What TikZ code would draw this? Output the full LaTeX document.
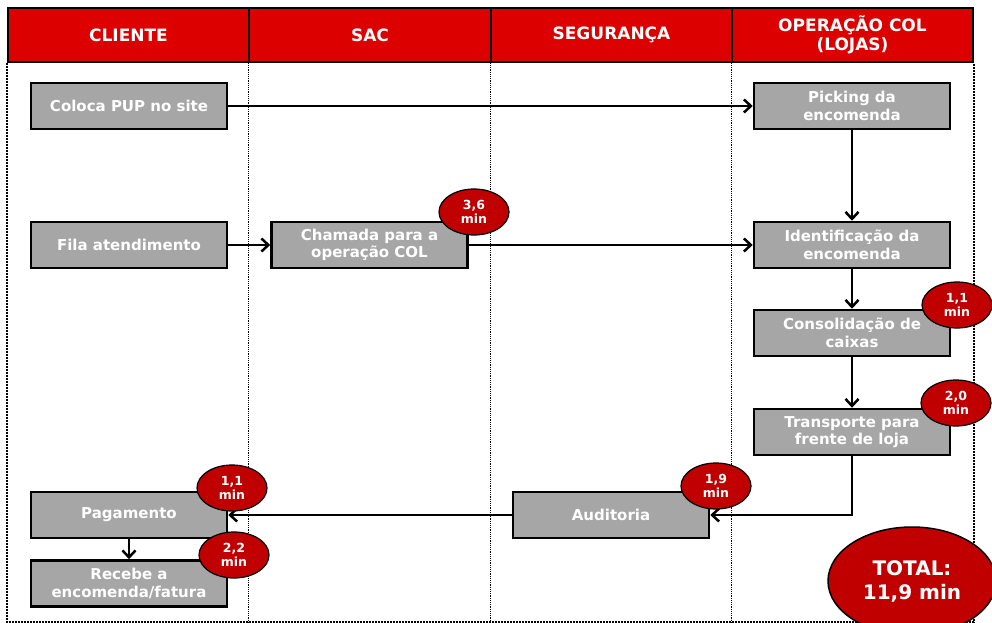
\documentclass[tikz,border=0pt]{standalone}
\usepackage{fontspec}
\setmainfont{DejaVu Sans}
\usetikzlibrary{shapes.geometric, arrows.meta}
\definecolor{rojo}{RGB}{221,0,0}
\definecolor{granate}{RGB}{192,0,0}
\definecolor{gris}{RGB}{166,166,166}
\tikzset{
	x=1pt, y=-1pt, % Un pixel de la imagen, y hacia abajo
	>={Straight Barb[length=7pt, width=13pt]}, % Puntas de flecha abiertas
	cabecera/.style={draw, line width=1.8pt, fill=rojo, text=white, minimum width=241pt, minimum height=54pt, align=center, font=\bfseries\fontsize{17}{19}\selectfont}, % Titulos de los carriles
	caja/.style={draw, line width=2.5pt, fill=gris, text=white, minimum width=196pt, minimum height=46pt, inner sep=1pt, align=center, font=\bfseries\fontsize{15}{17.5}\selectfont}, % Actividades
	tiempo/.style={ellipse, draw, line width=1.2pt, fill=granate, text=white, minimum width=70pt, minimum height=46pt, inner sep=0pt, align=center, font=\bfseries\fontsize{12.5}{14}\selectfont}, % Tiempos
	flujo/.style={->, line width=2.5pt}, % Conectores
	carril/.style={densely dotted, line width=1.2pt} % Separacion de carriles
}

\begin{document}
\begin{tikzpicture}
	\useasboundingbox (0,0) rectangle (992,623);
	% Cabeceras
	\node[cabecera] (cliente) at (128.5,35) {CLIENTE};
	\node[cabecera] (sac) at (370,35) {SAC};
	\node[cabecera] (seguranca) at (611.5,35) {SEGURANÇA};
	\node[cabecera] (operacao) at (852.5,35) {OPERAÇÃO COL\\(LOJAS)};
	% Carriles
	\foreach \c in {sac, seguranca, operacao}
		\draw[carril] (\c.south west) -- ++(0,559);
	\draw[carril, line width=2pt] (cliente.south west) -- ++(0,559) -| (operacao.south east);
	% Actividades
	\node[caja] (coloca) at (129,106) {Coloca PUP no site};
	\node[caja] (fila) at (129,245) {Fila atendimento};
	\node[caja] (pagamento) at (129,515) {Pagamento};
	\node[caja] (recebe) at (129,583.5) {Recebe a\\encomenda/fatura};
	\node[caja] (chamada) at (369.5,245) {Chamada para a\\operação COL};
	\node[caja] (auditoria) at (611,515) {Auditoria};
	\node[caja] (picking) at (852,106) {Picking da\\encomenda};
	\node[caja] (identificacao) at (852,245) {Identificação da\\encomenda};
	\node[caja] (consolidacao) at (852,333) {Consolidação de\\caixas};
	\node[caja] (transporte) at (852,432) {Transporte para\\frente de loja};
	% Flujo
	\draw[flujo] (coloca) -- (picking);
	\draw[flujo] (picking) -- (identificacao);
	\draw[flujo] (fila) -- (chamada);
	\draw[flujo] (chamada) -- (identificacao);
	\draw[flujo] (identificacao) -- (consolidacao);
	\draw[flujo] (consolidacao) -- (transporte);
	\draw[flujo] (transporte.south) |- (auditoria.east);
	\draw[flujo] (auditoria) -- (pagamento);
	\draw[flujo] (pagamento) -- (recebe);
	% Tiempos
	\node[tiempo] (t1) at (474,212) {3,6\\min};
	\node[tiempo] (t2) at (957,305) {1,1\\min};
	\node[tiempo] (t3) at (956,403) {2,0\\min};
	\node[tiempo] (t4) at (716,486) {1,9\\min};
	\node[tiempo] (t5) at (232,488) {1,1\\min};
	\node[tiempo] (t6) at (234,555) {2,2\\min};
	\node[tiempo, line width=1.5pt, minimum width=168pt, minimum height=108pt, font=\bfseries\fontsize{20}{24}\selectfont] (total) at (912,581) {TOTAL:\\11,9 min};
\end{tikzpicture}
\end{document}
